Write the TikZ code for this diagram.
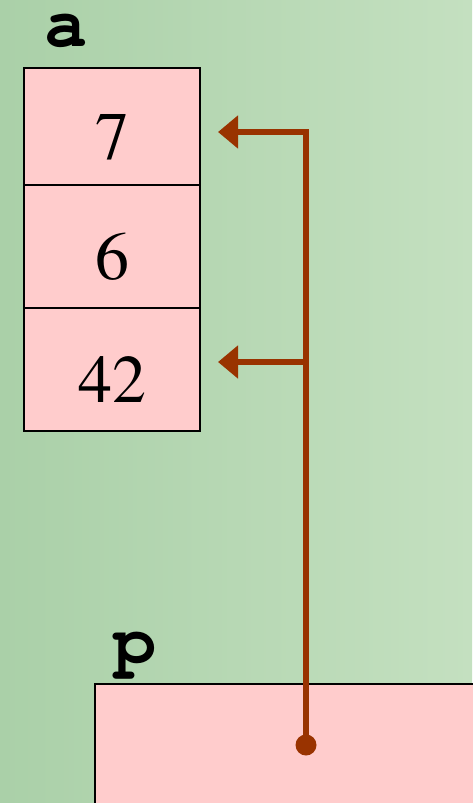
\documentclass[tikz,border=0pt]{standalone}
\usepackage[T1]{fontenc}
\renewcommand{\rmdefault}{ptm}
\renewcommand{\ttdefault}{pcr}
\usetikzlibrary{arrows.meta}
\definecolor{cellpink}{RGB}{255,204,204}
\definecolor{ptrbrown}{RGB}{153,51,0}
\definecolor{bgleft}{RGB}{170,208,168}
\definecolor{bgright}{RGB}{196,224,192}

\begin{document}
\begin{tikzpicture}[x=1pt,y=-1pt,
    cell/.style={draw=black,line width=1.5pt,fill=cellpink,minimum width=176pt,
      inner sep=0pt,text height=65pt,text depth=0pt,font=\fontsize{68}{68}\selectfont},
    varname/.style={inner sep=0pt,font=\ttfamily\bfseries\fontsize{72}{72}\selectfont},
    ptr/.style={draw=ptrbrown,line width=6.5pt,-{Triangle[length=20pt,width=32pt]}}]
    \fill[left color=bgleft,right color=bgright] (0,0) rectangle (472,803);
    \useasboundingbox (0,0) rectangle (472,803);

    \node[varname] (a) at (66,31) {a};
    \node[cell,minimum height=117pt] (1) at (112,126.5) {7};
    \node[cell,minimum height=123pt] (2) at (112,246.5) {6};
    \node[cell,minimum height=123pt] (3) at (112,369.5) {42};

    \node[varname] (pname) at (135,653) {p};
    \node[cell,minimum width=400pt,minimum height=140pt,anchor=north west] (p) at (94,683) {};
    \node[circle,fill=ptrbrown,minimum size=21pt,inner sep=0pt] (dot) at (306,745) {};

    \coordinate (top) at (306,132);
    \coordinate (mid) at (306,362);
    \coordinate (tip1) at (218,132);
    \coordinate (tip3) at (218,362);

    \draw[ptr] (dot.center) -- (top) -- (tip1);
    \draw[ptr] (mid) -- (tip3);
\end{tikzpicture}
\end{document}
